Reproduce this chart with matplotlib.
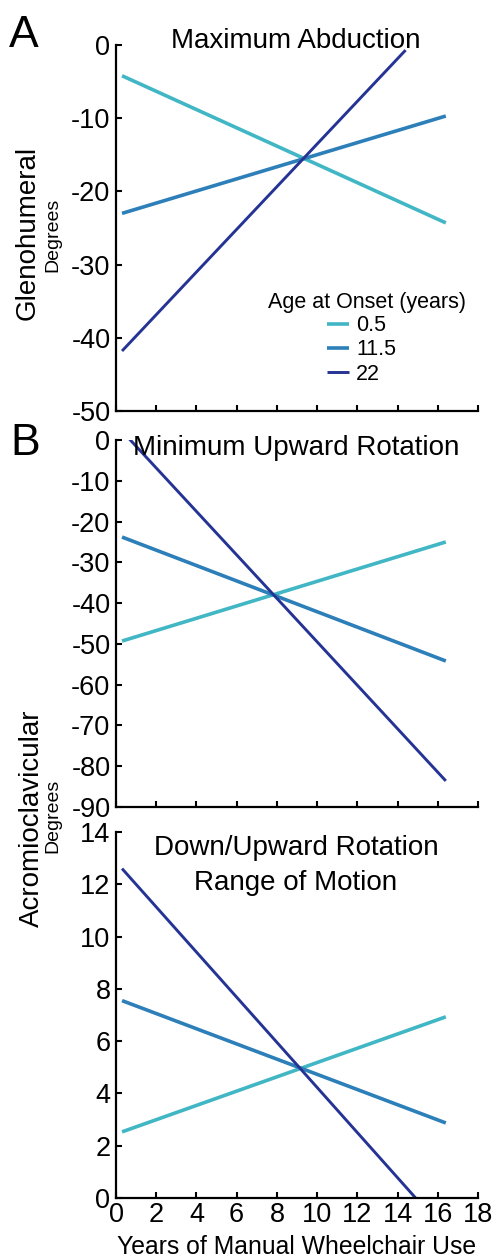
import matplotlib
matplotlib.use("Agg")
import matplotlib.pyplot as plt

plt.rcParams['font.family'] = ['Liberation Sans', 'DejaVu Sans']

W, H = 495, 1259

# data (x = years of manual wheelchair use)
x_start, x_end = 0.3, 16.4
ages = ['0.5', '11.5', '22']
colors = ['#41b6c4', '#2c7fb8', '#253494']
widths = [2.6, 2.6, 2.1]

# Panel A: glenohumeral maximum abduction
a_x = [[x_start, x_end], [x_start, x_end], [x_start, 14.4]]
a_y = [[-4.2, -24.3], [-23.0, -9.7], [-41.8, -0.7]]
# Panel B: acromioclavicular minimum upward rotation
b_x = [[x_start, x_end], [x_start, x_end], [x_start, x_end]]
b_y = [[-49.3, -25.0], [-23.8, -54.2], [2.2, -83.6]]
# Panel C: down/upward rotation range of motion
c_x = [[x_start, x_end], [x_start, x_end], [x_start, 14.9]]
c_y = [[2.53, 6.93], [7.55, 2.87], [12.6, 0.0]]

x_ticks = list(range(0, 19, 2))
a_ticks = list(range(-50, 1, 10))
b_ticks = list(range(-90, 1, 10))
c_ticks = list(range(0, 15, 2))

fig = plt.figure(figsize=(W / 100, H / 100), dpi=100)


def fx(px):
    return px / W


def fy(py):
    return 1 - py / H


def make_ax(top, bottom):
    ax = fig.add_axes([fx(116), fy(bottom), fx(478) - fx(116), fy(top) - fy(bottom)])
    for s in ['top', 'right']:
        ax.spines[s].set_visible(False)
    for s in ['left', 'bottom']:
        ax.spines[s].set_linewidth(1.6)
    ax.tick_params(direction='in', length=4, width=1.5, labelsize=19.5)
    ax.tick_params(axis='y', pad=4)
    ax.tick_params(axis='x', pad=3)
    ax.set_xlim(0, 18)
    ax.set_xticks(x_ticks)
    return ax


axA = make_ax(45, 411)
axB = make_ax(440, 807)
axC = make_ax(832, 1198)

lines = []
for xs, ys, c, w, lab in zip(a_x, a_y, colors, widths, ages):
    ln, = axA.plot(xs, ys, color=c, lw=w, solid_capstyle='butt', label=lab)
    lines.append(ln)
for xs, ys, c, w in zip(b_x, b_y, colors, widths):
    axB.plot(xs, ys, color=c, lw=w, solid_capstyle='butt')
for xs, ys, c, w in zip(c_x, c_y, colors, widths):
    axC.plot(xs, ys, color=c, lw=w, solid_capstyle='butt')

axA.set_ylim(-50, 0)
axA.set_yticks(a_ticks)
axB.set_ylim(-90, 0)
axB.set_yticks(b_ticks)
axC.set_ylim(0, 14)
axC.set_yticks(c_ticks)
axA.tick_params(axis='x', labelbottom=False)
axB.tick_params(axis='x', labelbottom=False)
for ax in (axA, axB, axC):
    ax.set_yticklabels([str(t) for t in ax.get_yticks().astype(int)])

# titles
fig.text(fx(296), fy(48), 'Maximum Abduction', fontsize=20, ha='center', va='baseline')
fig.text(fx(296), fy(455), 'Minimum Upward Rotation', fontsize=20, ha='center', va='baseline')
fig.text(fx(296), fy(855), 'Down/Upward Rotation', fontsize=20, ha='center', va='baseline')
fig.text(fx(296), fy(890), 'Range of Motion', fontsize=20, ha='center', va='baseline')

# panel letters
fig.text(fx(9), fy(47), 'A', fontsize=32, ha='left', va='baseline')
fig.text(fx(10), fy(455), 'B', fontsize=32, ha='left', va='baseline')

# y labels
fig.text(fx(35), fy(233), 'Glenohumeral', fontsize=20, rotation=90,
         rotation_mode='anchor', ha='center', va='baseline')
fig.text(fx(57), fy(235), 'Degrees', fontsize=14, rotation=90,
         rotation_mode='anchor', ha='center', va='baseline')
fig.text(fx(39), fy(818), 'Acromioclavicular', fontsize=20, rotation=90,
         rotation_mode='anchor', ha='center', va='baseline')
fig.text(fx(57), fy(816), 'Degrees', fontsize=14, rotation=90,
         rotation_mode='anchor', ha='center', va='baseline')

# x label
fig.text(fx(297), fy(1254), 'Years of Manual Wheelchair Use', fontsize=17.8,
         ha='center', va='baseline')

# legend
fig.text(fx(367), fy(308), 'Age at Onset (years)', fontsize=15.5, ha='center', va='baseline')
fig.legend(handles=lines, labels=ages, loc='center left',
           bbox_to_anchor=(fx(327), fy(350)), bbox_transform=fig.transFigure,
           frameon=False, fontsize=15.5, handlelength=1.0, handletextpad=0.35,
           labelspacing=0.15, borderpad=0, borderaxespad=0)

fig.savefig('out.png', dpi=100)
